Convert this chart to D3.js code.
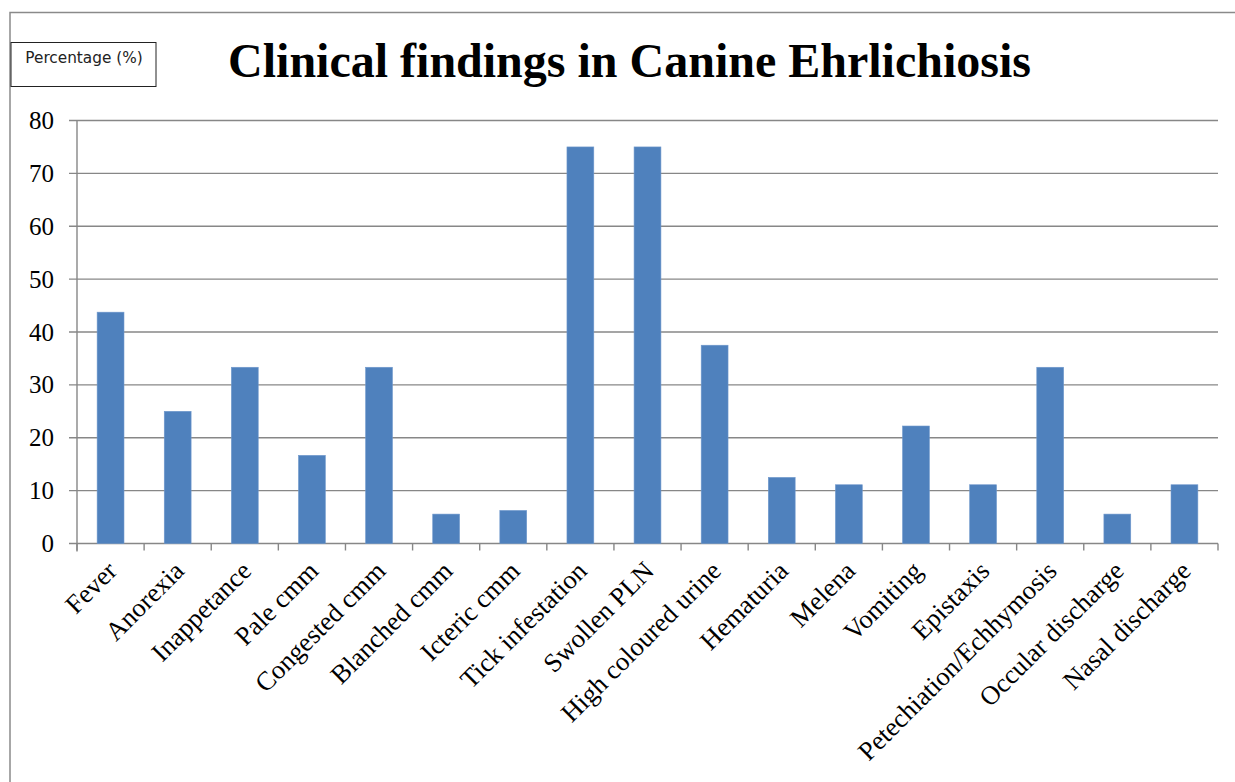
<!DOCTYPE html>
<html><head><meta charset="utf-8">
<script src="https://cdn.jsdelivr.net/npm/d3@7"></script>
<style>body{margin:0;background:#fff}</style>
</head><body>
<svg id="c" width="1235" height="782"></svg>
<script>
const categories = ["Fever","Anorexia","Inappetance","Pale cmm","Congested cmm","Blanched cmm","Icteric cmm","Tick infestation","Swollen PLN","High coloured urine","Hematuria","Melena","Vomiting","Epistaxis","Petechiation/Echhymosis","Occular discharge","Nasal discharge"];
const values = [43.75,25,33.33,16.67,33.33,5.56,6.25,75,75,37.5,12.5,11.11,22.22,11.11,33.33,5.56,11.11];
const yTicks = [0,10,20,30,40,50,60,70,80];
const title = "Clinical findings in Canine Ehrlichiosis";
const yLabel = "Percentage (%)";

const svg = d3.select("#c");
const L = 77, R = 1218, T = 120.5, B = 543.5;
const x = d3.scaleBand().domain(categories).range([L, R]).paddingInner(0.6).paddingOuter(0.3);
const xb = d3.scaleLinear().domain([0, categories.length]).range([L, R]);
const y = d3.scaleLinear().domain([0, 80]).range([B, T]);
const grey = "#878787";
const serif = "Liberation Serif, Times New Roman, serif";

// outer frame
svg.append("rect").attr("x",10).attr("y",12.5).attr("width",1240).attr("height",800)
  .attr("fill","none").attr("stroke","#8a8a8a").attr("stroke-width",1.5);

// gridlines
svg.append("g").selectAll("line").data(yTicks).join("line")
  .attr("x1", L-8).attr("x2", R).attr("y1", d=>y(d)).attr("y2", d=>y(d))
  .attr("stroke", grey).attr("stroke-width",1.4);
// y axis line
svg.append("line").attr("x1",L).attr("x2",L).attr("y1",T).attr("y2",B+8)
  .attr("stroke",grey).attr("stroke-width",1.4);
// x ticks
svg.append("g").selectAll("line").data(d3.range(categories.length+1)).join("line")
  .attr("x1", d=>xb(d)).attr("x2", d=>xb(d)).attr("y1", B).attr("y2", B+7)
  .attr("stroke", grey).attr("stroke-width",1.4);

// y labels
svg.append("g").selectAll("text").data(yTicks).join("text")
  .attr("x", 54).attr("y", d=>y(d)+8.5).attr("text-anchor","end")
  .attr("font-family",serif).attr("font-size",25)
  .text(d=>d);

// bars
svg.append("g").selectAll("rect").data(values).join("rect")
  .attr("x", (d,i)=>x(categories[i])).attr("width", x.bandwidth())
  .attr("y", d=>y(d)).attr("height", d=>B-y(d)).attr("fill","#4F81BD")
  .attr("stroke","#6f98cc").attr("stroke-width",0.6);

// x labels
svg.append("g").selectAll("text").data(categories).join("text")
  .attr("text-anchor","end")
  .attr("transform", d=>`translate(${x(d)+x.bandwidth()/2+8},${B+29}) rotate(-45)`)
  .attr("font-family",serif).attr("font-size",26.5)
  .text(d=>d);

// title
svg.append("text").attr("x",629.5).attr("y",77).attr("text-anchor","middle")
  .attr("font-family",serif).attr("font-weight","bold")
  .attr("font-size",48).text(title);

// y label box
svg.append("rect").attr("x",11).attr("y",42.5).attr("width",145).attr("height",44)
  .attr("fill","#fff").attr("stroke","#222").attr("stroke-width",1);
svg.append("text").attr("x",84).attr("y",63).attr("text-anchor","middle")
  .attr("font-family","DejaVu Sans, Verdana, sans-serif").attr("font-size",15.3)
  .attr("fill","#222").text(yLabel);
</script>
</body></html>
